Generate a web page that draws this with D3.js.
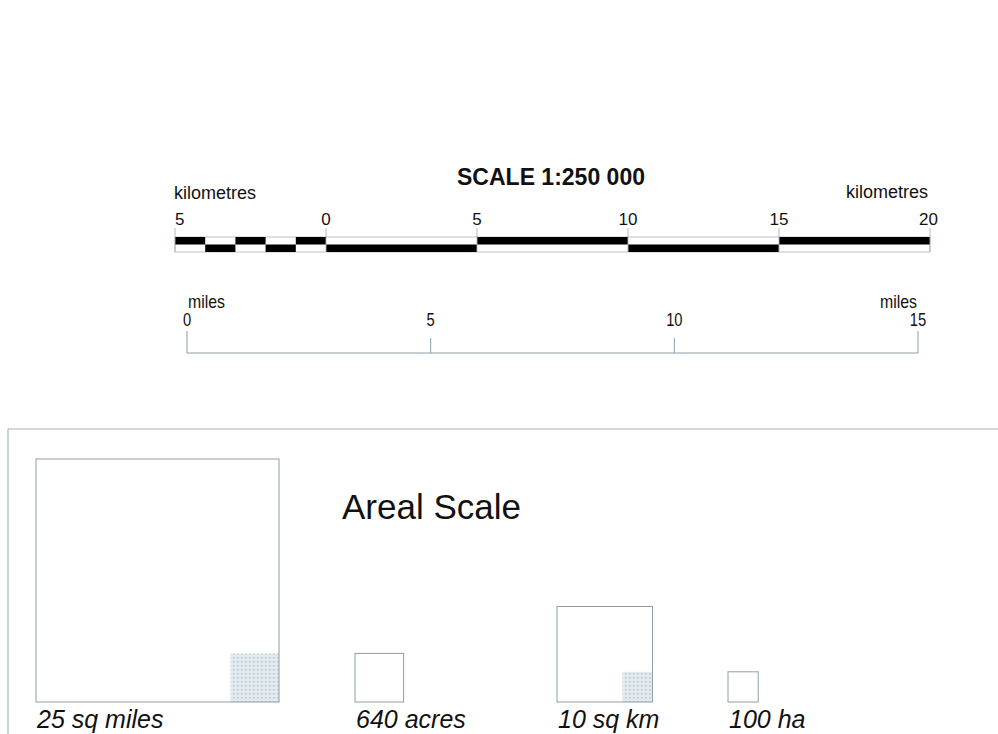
<!DOCTYPE html>
<html>
<head>
<meta charset="utf-8">
<script src="https://cdn.jsdelivr.net/npm/d3@7"></script>
<style>
  html, body { margin: 0; padding: 0; background: #fff; }
  svg { display: block; }
  .sans { font-family: "Liberation Sans", Arial, Helvetica, sans-serif; }
</style>
</head>
<body>
<svg id="chart" width="998" height="734"></svg>
<script>
// ---------- data ----------
const title = "SCALE 1:250 000";
const kmTicks = [-5, 0, 5, 10, 15, 20];
const kmTickLabels = ["5", "0", "5", "10", "15", "20"];
const kmSubTicks = [-5, -4, -3, -2, -1, 0];       // 1 km subdivisions left of zero
const mileTicks = [0, 5, 10, 15];
const mileTickLabels = ["0", "5", "10", "15"];
const KM_PER_MILE = 1.609344;

const arealTitle = "Areal Scale";
const arealNames = ["25 sq miles", "640 acres", "10 sq km", "100 ha"];
const arealSideKm = [5 * KM_PER_MILE, KM_PER_MILE, Math.sqrt(10), 1];  // side length of each square
const arealInnerKm = [KM_PER_MILE, 0, 1, 0];                           // shaded inner square (1 sq mile, 1 sq km)

// ---------- layout ----------
const L = {
  kmX0: 175, kmX1: 930,
  barTop: 237, barH: 15, tickTop: 228,
  miX0: 187, miX1: 918, miY: 353,
  squareLeft: [36, 355, 557, 728], squareBottom: 702
};

const svg = d3.select("#chart");
const ink = "#111";
const thin = "#8f9ea6";

// ---------- scales ----------
const xKm = d3.scaleLinear().domain([-5, 20]).range([L.kmX0, L.kmX1]);
const xMi = d3.scaleLinear().domain([0, 15]).range([L.miX0, L.miX1]);
const pxPerKm = xKm(1) - xKm(0);
const side = d3.scaleLinear().domain([0, 1]).range([0, pxPerKm]);

// ---------- title ----------
svg.append("text").attr("class", "sans")
  .attr("x", 551).attr("y", 185).attr("text-anchor", "middle")
  .attr("font-size", 23).attr("font-weight", "bold").attr("fill", ink)
  .text(title);

// ---------- km bar ----------
const km = svg.append("g");
km.append("text").attr("class", "sans").attr("x", xKm(-5) - 1).attr("y", 199)
  .attr("font-size", 18).attr("fill", ink).text("kilometres");
km.append("text").attr("class", "sans").attr("x", xKm(20) - 2).attr("y", 198)
  .attr("text-anchor", "end").attr("font-size", 18).attr("fill", ink).text("kilometres");

km.selectAll("text.tick").data(kmTicks).join("text")
  .attr("class", "sans tick")
  .attr("x", (d, i) => i === kmTicks.length - 1 ? xKm(d) + 8 : xKm(d))
  .attr("y", 225)
  .attr("text-anchor", (d, i) => i === 0 ? "start" : (i === kmTicks.length - 1 ? "end" : "middle"))
  .attr("font-size", 17).attr("fill", ink)
  .text((d, i) => kmTickLabels[i]);

// outline
km.append("rect").attr("x", xKm(-5)).attr("y", L.barTop)
  .attr("width", xKm(20) - xKm(-5)).attr("height", L.barH)
  .attr("fill", "none").attr("stroke", "#a8b4b8").attr("stroke-width", 0.8);

// segments: 1 km subdivisions then 5 km segments, alternating top/bottom
const segs = [];
for (let i = 0; i < kmSubTicks.length - 1; i++) segs.push([kmSubTicks[i], kmSubTicks[i + 1]]);
for (let i = 1; i < kmTicks.length - 1; i++) segs.push([kmTicks[i], kmTicks[i + 1]]);
km.selectAll("rect.seg").data(segs).join("rect")
  .attr("class", "seg")
  .attr("x", d => xKm(d[0])).attr("width", d => xKm(d[1]) - xKm(d[0]))
  .attr("y", (d, i) => i % 2 === 0 ? L.barTop : L.barTop + L.barH / 2)
  .attr("height", L.barH / 2)
  .attr("fill", "#000");

km.selectAll("line.tk").data(kmTicks).join("line")
  .attr("class", "tk")
  .attr("x1", d => xKm(d)).attr("x2", d => xKm(d))
  .attr("y1", L.tickTop).attr("y2", L.barTop + L.barH)
  .attr("stroke", "#a8b4b8").attr("stroke-width", 0.9);

// ---------- miles bar ----------
const mi = svg.append("g");
mi.append("line").attr("x1", xMi(0)).attr("x2", xMi(15)).attr("y1", L.miY).attr("y2", L.miY)
  .attr("stroke", thin).attr("stroke-width", 1);
mi.selectAll("line.tk").data(mileTicks).join("line")
  .attr("class", "tk")
  .attr("x1", d => xMi(d)).attr("x2", d => xMi(d))
  .attr("y1", (d, i) => (i === 0 || i === mileTicks.length - 1) ? L.miY - 22 : L.miY - 15)
  .attr("y2", L.miY)
  .attr("stroke", thin).attr("stroke-width", 1);
mi.selectAll("text.tick").data(mileTicks).join("text")
  .attr("class", "sans tick")
  .attr("x", d => xMi(d)).attr("y", 326)
  .attr("text-anchor", "middle").attr("font-size", 18).attr("fill", ink)
  .attr("transform", d => `translate(${xMi(d)},0) scale(0.82,1) translate(${-xMi(d)},0)`)
  .text((d, i) => mileTickLabels[i]);
mi.selectAll("text.unit").data(["start", "end"]).join("text")
  .attr("class", "sans unit")
  .attr("x", d => d === "start" ? xMi(0) + 1 : xMi(15) - 1).attr("y", 308)
  .attr("text-anchor", d => d)
  .attr("font-size", 18).attr("fill", ink)
  .attr("transform", d => { const x = d === "start" ? xMi(0) + 1 : xMi(15) - 1; return `translate(${x},0) scale(0.88,1) translate(${-x},0)`; })
  .text("miles");

// ---------- areal frame ----------
const frame = "#a3b6b6";
svg.append("line").attr("x1", 8).attr("x2", 998).attr("y1", 429).attr("y2", 429)
  .attr("stroke", frame).attr("stroke-width", 1.2);
svg.append("line").attr("x1", 8).attr("x2", 8).attr("y1", 429).attr("y2", 734)
  .attr("stroke", frame).attr("stroke-width", 1.2);

svg.append("text").attr("class", "sans").attr("x", 342).attr("y", 519)
  .attr("font-size", 35).attr("fill", ink).text(arealTitle);

// dotted shading pattern
const defs = svg.append("defs");
const pat = defs.append("pattern").attr("id", "dots")
  .attr("patternUnits", "userSpaceOnUse").attr("width", 4).attr("height", 4);
pat.append("rect").attr("width", 4).attr("height", 4).attr("fill", "#e4ebf0");
pat.append("rect").attr("x", 1).attr("y", 1).attr("width", 1.6).attr("height", 1.6).attr("fill", "#b9c8d3");

const sq = svg.selectAll("g.sq").data(arealNames).join("g").attr("class", "sq");
sq.each(function (name, i) {
  const g = d3.select(this);
  const s = side(arealSideKm[i]);
  const x0 = L.squareLeft[i], yb = L.squareBottom;
  if (arealInnerKm[i] > 0) {
    const si = side(arealInnerKm[i]);
    g.append("rect").attr("x", x0 + s - si).attr("y", yb - si)
      .attr("width", si).attr("height", si).attr("fill", "url(#dots)");
  }
  g.append("rect").attr("x", x0).attr("y", yb - s).attr("width", s).attr("height", s)
    .attr("fill", "none").attr("stroke", thin).attr("stroke-width", 1);
  g.append("text").attr("class", "sans").attr("x", x0 + 1).attr("y", 728)
    .attr("font-size", 25).attr("font-style", "italic").attr("fill", ink).text(name);
});
</script>
</body>
</html>
